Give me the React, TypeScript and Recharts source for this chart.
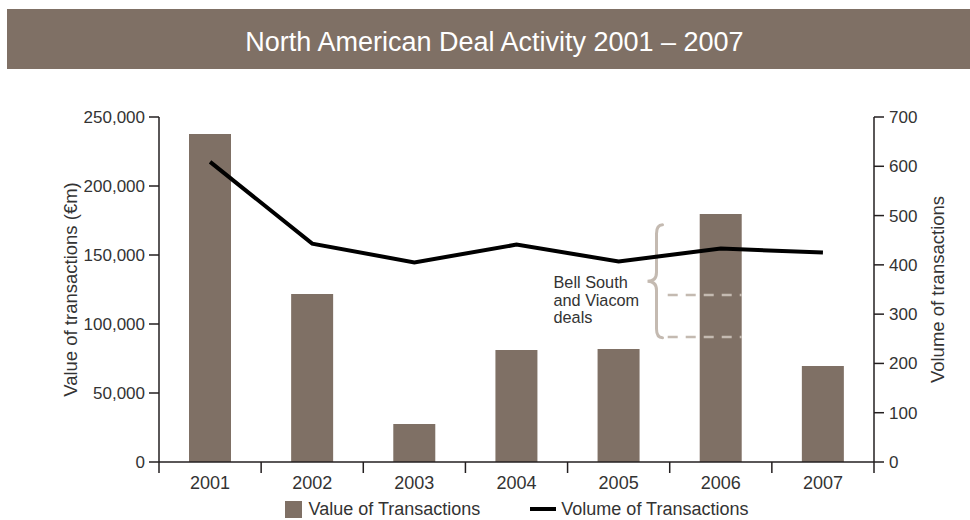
import { ComposedChart, Bar, Line, XAxis, YAxis, Legend, ReferenceLine, ReferenceArea } from "recharts";

const years = ["2001", "2002", "2003", "2004", "2005", "2006", "2007"];
const dealValues = [237700, 121700, 27500, 81200, 81900, 179700, 69500];
const dealVolumes = [609, 443, 405, 441, 407, 433, 425];
const valueTicks = [0, 50000, 100000, 150000, 200000, 250000];
const volumeTicks = [0, 100, 200, 300, 400, 500, 600, 700];
// 2006 value with / without the Bell South and Viacom deals (left axis)
const dealGuides = [121000, 90600];
const braceRange = [90000, 172000];
const noteLines = ["Bell South", "and Viacom", "deals"];

const data = years.map((year, i) => ({ year, value: dealValues[i], volume: dealVolumes[i] }));

const BROWN = "#7f7065";
const AXIS = "#231f20";
const TEXT = "#333";
const PALE = "#c4bab1";

const PLOT_LEFT = 159;
const PLOT_RIGHT = 874;
const STEP = (PLOT_RIGHT - PLOT_LEFT) / years.length;

const YearTick = (props: any) => {
  const { x, y, payload, index } = props;
  const left = x - STEP / 2;
  return (
    <g>
      <line x1={left} y1={y} x2={left} y2={y + 11} stroke={AXIS} strokeWidth={1.5} />
      {index === years.length - 1 && (
        <line x1={x + STEP / 2} y1={y} x2={x + STEP / 2} y2={y + 11} stroke={AXIS} strokeWidth={1.5} />
      )}
      <text x={x} y={y + 27} textAnchor="middle" fontSize={18} fill={TEXT}>
        {payload.value}
      </text>
    </g>
  );
};

const AxisTitle = ({ viewBox, value, dx }: any) => {
  const cx = viewBox.x + dx;
  const cy = viewBox.y + viewBox.height / 2;
  return (
    <text x={cx} y={cy} transform={`rotate(-90, ${cx}, ${cy})`} textAnchor="middle" dominantBaseline="central" fontSize={18.5} fill={TEXT}>
      {value}
    </text>
  );
};

// dashed guide running from the 2005/2006 gap to the right edge of the 2006 bar
const GuideShape = (props: any) => {
  const { x1, y1 } = props;
  const start = x1 + STEP * 5 - 2;
  const end = x1 + STEP * 5.5 + 21;
  return <line x1={start} y1={y1} x2={end} y2={y1} stroke={PALE} strokeWidth={2.5} strokeDasharray="10 8" />;
};

const BraceShape = (props: any) => {
  const { x, y, height } = props;
  const body = x + STEP * 4.9 - 3;
  const tip = body - 9;
  const end = body + 6;
  const top = y;
  const bottom = y + height;
  const mid = (top + bottom) / 2;
  const d = `M ${end} ${top} Q ${body} ${top} ${body} ${top + 9} L ${body} ${mid - 9} Q ${body} ${mid} ${tip} ${mid} Q ${body} ${mid} ${body} ${mid + 9} L ${body} ${bottom - 9} Q ${body} ${bottom} ${end} ${bottom}`;
  return (
    <g>
      <path d={d} fill="none" stroke={PALE} strokeWidth={3} strokeLinecap="round" />
      {noteLines.map((t, i) => (
        <text key={t} x={tip - 94} y={mid + 7 + i * 17.5} fontSize={16.3} fill={TEXT}>
          {t}
        </text>
      ))}
    </g>
  );
};

const LegendContent = ({ payload }: any) => (
  <div style={{ display: "flex", justifyContent: "center", alignItems: "center", height: 30, paddingTop: 8, boxSizing: "border-box", fontSize: 18, color: TEXT }}>
    {(payload || []).map((p: any, i: number) => (
      <div key={p.value} style={{ display: "flex", alignItems: "center", marginLeft: i === 0 ? 0 : 50 }}>
        {p.type === "line" ? (
          <div style={{ width: 26, height: 4, background: "#000", marginRight: 5 }} />
        ) : (
          <div style={{ width: 17, height: 17, background: BROWN, marginRight: 7 }} />
        )}
        <span>{p.value}</span>
      </div>
    ))}
  </div>
);

export default function App() {
  return (
    <div style={{ position: "absolute", left: 0, top: 0, width: 970, height: 520, background: "#fff", fontFamily: "'Liberation Sans', Arial, sans-serif" }}>
      <ComposedChart width={970} height={520} data={data} margin={{ top: 117, right: 0, bottom: 0, left: 0 }}>
        <XAxis
          dataKey="year"
          height={28}
          axisLine={{ stroke: AXIS, strokeWidth: 1.5 }}
          tickLine={false}
          tickSize={0}
          tickMargin={0}
          tick={<YearTick />}
          interval={0}
        />
        <YAxis
          yAxisId="left"
          width={159}
          domain={[0, 250000]}
          ticks={valueTicks}
          tickFormatter={(v) => v.toLocaleString("en-US")}
          tick={{ fontSize: 17, fill: TEXT }}
          tickSize={10}
          tickMargin={4}
          axisLine={{ stroke: AXIS, strokeWidth: 1.5 }}
          tickLine={{ stroke: AXIS, strokeWidth: 1.5 }}
          label={<AxisTitle value="Value of transactions (€m)" dx={70} />}
        />
        <YAxis
          yAxisId="right"
          orientation="right"
          width={96}
          domain={[0, 700]}
          ticks={volumeTicks}
          tick={{ fontSize: 17, fill: TEXT }}
          tickSize={10}
          tickMargin={5}
          axisLine={{ stroke: AXIS, strokeWidth: 1.5 }}
          tickLine={{ stroke: AXIS, strokeWidth: 1.5 }}
          label={<AxisTitle value="Volume of transactions" dx={63} />}
        />
        <Bar yAxisId="left" dataKey="value" name="Value of Transactions" fill={BROWN} barSize={42} isAnimationActive={false} legendType="rect" />
        <Line yAxisId="right" dataKey="volume" name="Volume of Transactions" stroke="#000" strokeWidth={4} dot={false} type="linear" isAnimationActive={false} legendType="line" />
        {dealGuides.map((g) => (
          <ReferenceLine key={g} yAxisId="left" y={g} shape={<GuideShape />} />
        ))}
        <ReferenceArea yAxisId="left" y1={braceRange[0]} y2={braceRange[1]} shape={<BraceShape />} />
        <Legend verticalAlign="bottom" height={30} wrapperStyle={{ left: PLOT_LEFT, width: PLOT_RIGHT - PLOT_LEFT }} content={<LegendContent />} />
      </ComposedChart>
      <div
        style={{
          position: "absolute",
          left: 7,
          top: 9,
          width: 963,
          height: 60,
          boxSizing: "border-box",
          paddingTop: 7,
          paddingLeft: 12,
          lineHeight: "53px",
          background: BROWN,
          color: "#fff",
          fontSize: 27,
          textAlign: "center",
        }}
      >
        North American Deal Activity 2001 – 2007
      </div>
    </div>
  );
}
